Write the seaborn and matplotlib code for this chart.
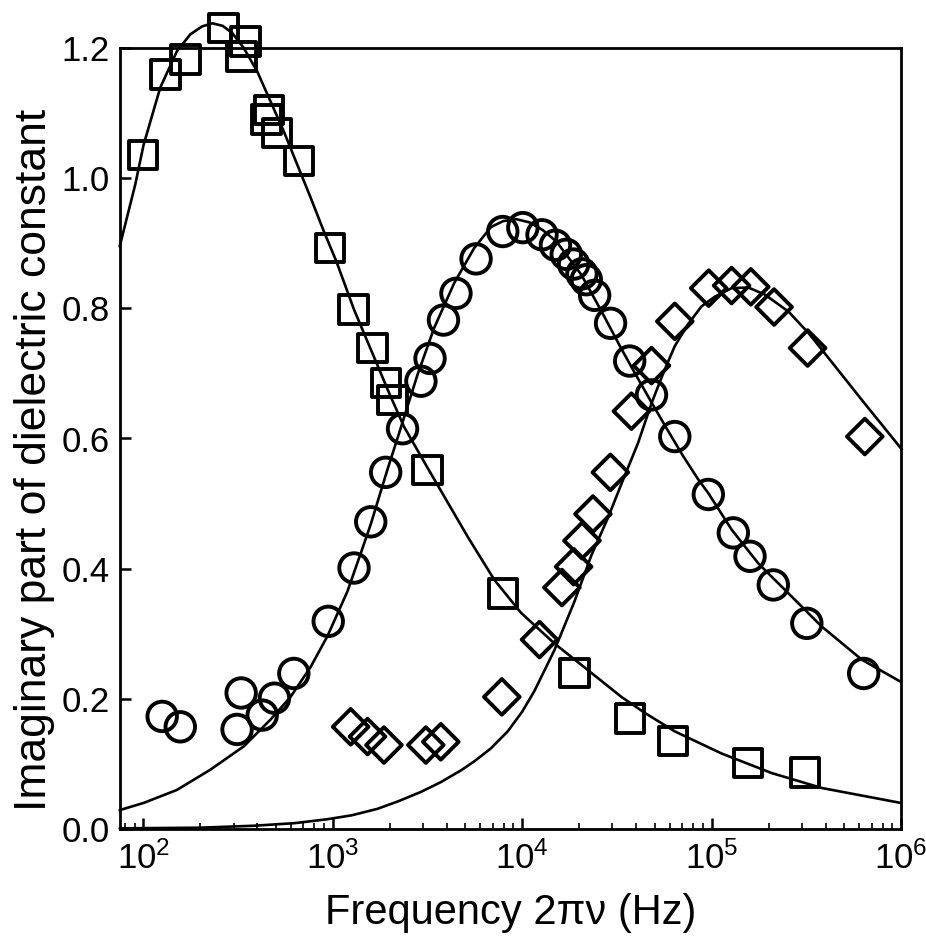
import numpy as np
import pandas as pd
import matplotlib
matplotlib.use("Agg")
import matplotlib.pyplot as plt
from matplotlib.ticker import LogLocator, LogFormatterMathtext, FormatStrFormatter, NullFormatter
import seaborn as sns

# ---- measured loss peaks (frequency in Hz, imaginary permittivity) ----
sq_freq = [100, 131, 167, 266, 330, 347, 447, 460, 509, 664, 966, 1290, 1620,
           1910, 2070, 3170, 7910, 18900, 37000, 62700, 156000, 312000]
sq_eps = [1.036, 1.159, 1.182, 1.231, 1.187, 1.210, 1.090, 1.105, 1.069, 1.026,
          0.893, 0.798, 0.739, 0.685, 0.659, 0.552, 0.362, 0.240, 0.170, 0.135,
          0.101, 0.087]

ci_freq = [126, 157, 313, 329, 425, 493, 624, 948, 1297, 1589, 1905, 2339, 2924,
           3266, 3846, 4477, 5715, 7907, 10090, 12740, 15000, 17100, 18710, 20700,
           21830, 24150, 29310, 36980, 48190, 63970, 96160, 130300, 159600,
           211800, 318400, 635300]
ci_eps = [0.173, 0.157, 0.153, 0.209, 0.175, 0.201, 0.239, 0.319, 0.401, 0.472,
          0.548, 0.615, 0.688, 0.723, 0.782, 0.823, 0.876, 0.918, 0.924, 0.913,
          0.897, 0.883, 0.868, 0.853, 0.844, 0.820, 0.777, 0.719, 0.667, 0.603,
          0.514, 0.455, 0.419, 0.375, 0.316, 0.239]

di_freq = [1245, 1528, 1866, 3105, 3724, 7816, 12360, 16220, 18710, 20700, 23660,
           29240, 37760, 48190, 63970, 96610, 127600, 161100, 213800, 321400,
           644200]
di_eps = [0.157, 0.142, 0.129, 0.129, 0.134, 0.203, 0.291, 0.371, 0.403, 0.443,
          0.484, 0.548, 0.642, 0.712, 0.780, 0.831, 0.835, 0.833, 0.802, 0.739,
          0.603]

# ---- fitted relaxation curves (log10 of frequency in Hz, imaginary permittivity) ----
sq_fit_logf = [1.876, 1.958, 2.002, 2.090, 2.178, 2.249, 2.310, 2.365, 2.420, 2.470,
               2.531, 2.602, 2.672, 2.742, 2.813, 2.884, 2.954, 3.020, 3.113, 3.210,
               3.298, 3.377, 3.501, 3.589, 3.713, 3.853, 3.995, 4.171, 4.348, 4.524,
               4.650, 4.806, 5.053, 5.317, 5.582, 6.000]
sq_fit_eps = [0.895, 0.990, 1.051, 1.139, 1.195, 1.221, 1.233, 1.238, 1.234, 1.223,
              1.200, 1.164, 1.118, 1.072, 1.021, 0.970, 0.918, 0.872, 0.798, 0.731,
              0.670, 0.618, 0.555, 0.511, 0.449, 0.383, 0.332, 0.285, 0.244, 0.203,
              0.178, 0.150, 0.116, 0.086, 0.063, 0.040]

ci_fit_logf = [1.876, 2.002, 2.178, 2.354, 2.531, 2.672, 2.778, 2.884, 2.972, 3.078,
               3.150, 3.201, 3.289, 3.342, 3.448, 3.536, 3.642, 3.748, 3.836, 3.900,
               3.970, 4.040, 4.110, 4.180, 4.312, 4.420, 4.520, 4.600, 4.680, 4.770,
               4.850, 4.930, 4.983, 5.106, 5.247, 5.406, 5.582, 5.794, 6.000]
ci_fit_eps = [0.029, 0.040, 0.060, 0.091, 0.127, 0.168, 0.203, 0.249, 0.296, 0.365,
              0.425, 0.468, 0.552, 0.600, 0.698, 0.770, 0.839, 0.893, 0.925, 0.934,
              0.937, 0.932, 0.920, 0.903, 0.852, 0.795, 0.740, 0.698, 0.657, 0.612,
              0.573, 0.537, 0.516, 0.460, 0.408, 0.362, 0.311, 0.260, 0.226]

di_fit_logf = [1.876, 2.300, 2.584, 2.800, 2.972, 3.100, 3.237, 3.350, 3.466, 3.571,
               3.677, 3.748, 3.836, 3.924, 4.000, 4.065, 4.171, 4.277, 4.365, 4.453,
               4.524, 4.612, 4.683, 4.753, 4.806, 4.877, 4.947, 5.018, 5.106, 5.194,
               5.282, 5.406, 5.512, 5.652, 5.794, 6.005]
di_fit_eps = [0.001, 0.002, 0.005, 0.009, 0.015, 0.021, 0.031, 0.043, 0.057, 0.072,
              0.090, 0.104, 0.124, 0.150, 0.180, 0.212, 0.275, 0.350, 0.420, 0.478,
              0.530, 0.593, 0.654, 0.706, 0.742, 0.776, 0.803, 0.818, 0.831, 0.832,
              0.821, 0.795, 0.762, 0.711, 0.659, 0.583]

x_ticks = [1e2, 1e3, 1e4, 1e5, 1e6]
y_ticks = [0.0, 0.2, 0.4, 0.6, 0.8, 1.0, 1.2]

sns.set_theme(style="ticks")
plt.rcParams["font.family"] = ["Liberation Sans", "DejaVu Sans"]
plt.rcParams["mathtext.fontset"] = "custom"
plt.rcParams["mathtext.rm"] = "Liberation Sans"
plt.rcParams["mathtext.it"] = "Liberation Sans:italic"
plt.rcParams["mathtext.bf"] = "Liberation Sans:bold"

fig = plt.figure(figsize=(9.26, 9.46), dpi=100)
W, H = 926, 946
ax = fig.add_axes([119.5 / W, 1 - 829 / H, (901 - 119.5) / W, (829 - 48) / H])

line_kw = dict(color="black", linewidth=1.9, estimator=None, sort=False,
               clip_on=False, legend=False, zorder=2)
for logf, eps in [(sq_fit_logf, sq_fit_eps), (ci_fit_logf, ci_fit_eps),
                  (di_fit_logf, di_fit_eps)]:
    fit = pd.DataFrame({"freq": np.power(10.0, logf), "eps": eps})
    sns.lineplot(data=fit, x="freq", y="eps", ax=ax, **line_kw)

mark_kw = dict(facecolors="none", edgecolor="black", linewidth=2.8,
               clip_on=False, legend=False, zorder=3)
sns.scatterplot(data=pd.DataFrame({"freq": sq_freq, "eps": sq_eps}), x="freq", y="eps",
                marker="s", s=420, ax=ax, **mark_kw)
sns.scatterplot(data=pd.DataFrame({"freq": ci_freq, "eps": ci_eps}), x="freq", y="eps",
                marker="o", s=450, ax=ax, **mark_kw)
sns.scatterplot(data=pd.DataFrame({"freq": di_freq, "eps": di_eps}), x="freq", y="eps",
                marker="D", s=330, ax=ax, **mark_kw)

ax.set_xscale("log")
ax.set_xlim(75, 1e6)
ax.set_ylim(0, 1.2)

ax.xaxis.set_major_locator(LogLocator(base=10, subs=(1.0,)))
ax.xaxis.set_minor_locator(LogLocator(base=10, subs=np.arange(2, 10)))
ax.xaxis.set_major_formatter(LogFormatterMathtext())
ax.xaxis.set_minor_formatter(NullFormatter())
ax.set_xticks(x_ticks)
ax.set_yticks(y_ticks)
ax.yaxis.set_major_formatter(FormatStrFormatter("%.1f"))

for side in ["left", "right", "top", "bottom"]:
    ax.spines[side].set_visible(True)
    ax.spines[side].set_linewidth(2.0)
    ax.spines[side].set_color("black")

ax.tick_params(axis="both", which="major", direction="in", length=8, width=1.8,
               labelsize=25, colors="black", pad=7)
ax.tick_params(axis="x", which="minor", direction="in", length=4.5, width=1.4)
ax.tick_params(axis="x", which="major", pad=9)
ax.tick_params(top=False, right=False, which="both")

ax.set_xlabel("Frequency 2πν (Hz)", fontsize=30, color="black", labelpad=12)
ax.set_ylabel("Imaginary part of dielectric constant", fontsize=32, color="black")
ax.yaxis.set_label_coords(-0.083, 0.472)

fig.savefig("out.png", dpi=100, facecolor="white")
